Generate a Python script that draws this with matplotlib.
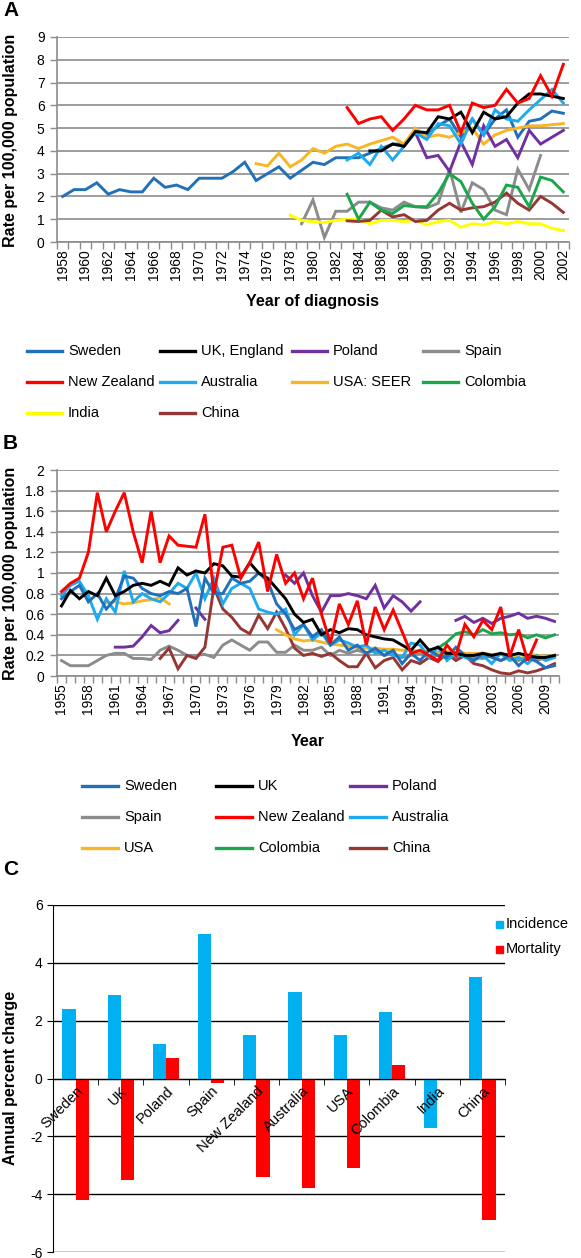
import matplotlib
matplotlib.use("Agg")
import matplotlib.pyplot as plt
from matplotlib.lines import Line2D
from matplotlib.patches import Rectangle
from matplotlib.ticker import FixedLocator, NullFormatter
import numpy as np

plt.rcParams['font.family'] = ['Liberation Sans', 'DejaVu Sans']

W, H = 581, 1258

# ---------------- panel A : incidence, 1958-2002 (start year, values)
sweden_a = (1958, [2.0, 2.3, 2.3, 2.6, 2.1, 2.3, 2.2, 2.2, 2.8, 2.4, 2.5, 2.3, 2.8, 2.8, 2.8,
                   3.1, 3.5, 2.7, 3.0, 3.3, 2.8, 3.15, 3.5, 3.4, 3.7, 3.7, 3.7, 3.9, 4.1, 4.3,
                   4.3, 4.8, 4.7, 5.1, 5.4, 4.6, 5.4, 4.7, 5.4, 5.8, 4.6, 5.3, 5.4, 5.75, 5.65])
uk_a = (1985, [4.0, 4.0, 4.3, 4.2, 4.85, 4.8, 5.5, 5.4, 5.7, 4.8, 5.7, 5.4, 5.5, 6.1, 6.5,
               6.5, 6.4, 6.3])
poland_a = (1989, [4.8, 3.7, 3.8, 3.1, 4.4, 3.4, 5.1, 4.2, 4.5, 3.7, 4.9, 4.3, 4.6, 4.9])
spain_a = (1979, [0.8, 1.85, 0.2, 1.35, 1.35, 1.75, 1.75, 1.5, 1.4, 1.75, 1.55, 1.5, 1.7,
                  3.2, 1.3, 2.6, 2.3, 1.4, 1.2, 3.2, 2.3, 3.8])
nz_a = (1983, [5.9, 5.2, 5.4, 5.5, 4.9, 5.4, 6.0, 5.8, 5.8, 6.0, 4.8, 6.1, 5.9, 6.0, 6.7,
               6.1, 6.3, 7.3, 6.4, 7.8])
australia_a = (1983, [3.6, 3.9, 3.4, 4.2, 3.6, 4.2, 4.8, 4.5, 5.2, 5.1, 4.3, 5.4, 4.7, 5.8,
                      5.4, 5.3, 5.8, 6.25, 6.7, 6.1])
usa_a = (1975, [3.44, 3.34, 3.9, 3.3, 3.6, 4.1, 3.9, 4.2, 4.3, 4.1, 4.3, 4.45, 4.6, 4.3, 5.0,
                4.6, 4.7, 4.6, 4.8, 5.0, 4.3, 4.7, 4.9, 5.0, 5.1, 5.1, 5.15, 5.2])
colombia_a = (1983, [2.1, 1.0, 1.75, 1.4, 1.25, 1.6, 1.55, 1.55, 2.15, 3.0, 2.65, 1.7, 1.0,
                     1.55, 2.5, 2.4, 1.55, 2.85, 2.7, 2.2])
india_a = (1978, [1.18, 0.95, 0.9, 0.85, 0.95, 1.0, 1.0, 0.8, 0.95, 0.95, 0.9, 0.95, 0.75,
                  0.9, 0.95, 0.65, 0.8, 0.75, 0.9, 0.8, 0.9, 0.8, 0.8, 0.6, 0.5])
china_a = (1983, [0.93, 0.9, 0.95, 1.4, 1.1, 1.2, 0.9, 0.95, 1.4, 1.7, 1.4, 1.5, 1.55, 1.75,
                  2.15, 1.7, 1.4, 2.0, 1.7, 1.3])

# ---------------- panel B : mortality, 1955-2010
nan = np.nan
sweden_b = (1955, [0.75, 0.82, 0.88, 0.72, 0.80, 0.65, 0.75, 0.97, 0.95, 0.85, 0.80, 0.78,
                   0.82, 0.80, 0.85, 0.48, 0.95, 0.80, 0.80, 0.95, 0.90, 0.92, 1.00, 0.92,
                   0.70, 0.60, 0.45, 0.50, 0.38, 0.45, 0.30, 0.38, 0.25, 0.30, 0.22, 0.27,
                   0.20, 0.25, 0.12, 0.22, 0.15, 0.25, 0.20, 0.18, 0.28, 0.20, 0.15, 0.22,
                   0.18, 0.15, 0.20, 0.10, 0.18, 0.14, 0.08, 0.10])
uk_b = (1955, [0.68, 0.83, 0.75, 0.82, 0.78, 0.95, 0.78, 0.82, 0.88, 0.90, 0.88, 0.92, 0.88,
               1.05, 0.98, 1.02, 1.00, 1.09, 1.07, 0.97, 0.96, 1.10, 1.00, 0.95, 0.85, 0.75,
               0.60, 0.52, 0.55, 0.40, 0.45, 0.42, 0.46, 0.45, 0.40, 0.38, 0.36, 0.35, 0.30,
               0.25, 0.35, 0.25, 0.28, 0.22, 0.22, 0.20, 0.20, 0.22, 0.20, 0.22, 0.20, 0.22,
               0.20, 0.18, 0.18, 0.20])
poland_b = (1961, [0.28, 0.28, 0.29, 0.38, 0.49, 0.42, 0.44, 0.54, nan, 0.66, 0.55,
                   nan, nan, nan, nan, nan, nan, nan, nan,
                   0.98, 0.90, 1.00, 0.78, 0.62, 0.78, 0.78, 0.80, 0.78, 0.75, 0.88, 0.66,
                   0.78, 0.72, 0.63, 0.72, nan, nan, nan,
                   0.54, 0.58, 0.52, 0.56, 0.51, 0.56, 0.58, 0.61, 0.56, 0.58, 0.56, 0.53])
spain_b = (1955, [0.15, 0.10, 0.10, 0.10, 0.15, 0.20, 0.22, 0.22, 0.17, 0.17, 0.16, 0.25,
                  0.29, 0.25, 0.20, 0.20, 0.21, 0.18, 0.30, 0.35, 0.30, 0.25, 0.33, 0.33,
                  0.23, 0.23, 0.30, 0.25, 0.25, 0.28, 0.20, 0.25, 0.22, 0.25, 0.22, 0.25,
                  0.20, 0.22, 0.18, 0.20, 0.22, 0.18, 0.20, 0.22, 0.18, 0.20, 0.18, 0.17,
                  0.20, 0.15, 0.18, 0.15, 0.20, 0.15, 0.18, 0.20])
nz_b = (1955, [0.82, 0.90, 0.95, 1.20, 1.78, 1.40, 1.60, 1.78, 1.40, 1.10, 1.60, 1.10, 1.36,
               1.27, 1.26, 1.25, 1.57, 0.80, 1.25, 1.27, 0.95, 1.10, 1.30, 0.82, 1.18, 0.90,
               1.00, 0.75, 0.95, 0.60, 0.32, 0.70, 0.50, 0.73, 0.30, 0.67, 0.45, 0.64, 0.43,
               0.22, 0.25, 0.20, 0.15, 0.30, 0.20, 0.50, 0.38, 0.54, 0.45, 0.67, 0.19, 0.45,
               0.15, 0.35])
australia_b = (1955, [0.78, 0.88, 0.92, 0.78, 0.55, 0.75, 0.62, 1.02, 0.72, 0.80, 0.75, 0.72,
                      0.80, 0.90, 0.85, 1.00, 0.75, 0.95, 0.70, 0.85, 0.90, 0.85, 0.65, 0.62,
                      0.60, 0.65, 0.40, 0.50, 0.35, 0.42, 0.30, 0.35, 0.32, 0.28, 0.30, 0.22,
                      0.25, 0.20, 0.18, 0.32, 0.30, 0.18, 0.28, 0.15, 0.22, 0.18, 0.15, 0.20,
                      0.12, 0.22, 0.15, 0.18, 0.12, 0.20, 0.15, 0.18])
usa_b = (1960, [0.71, 0.72, 0.70, 0.71, 0.73, 0.74, 0.76, 0.70,
                nan, nan, nan, nan, nan, nan, nan, nan, nan, nan, nan,
                0.45, 0.40, 0.36, 0.34, 0.35, 0.33, 0.31, 0.30, 0.29, 0.28, 0.27, 0.27,
                0.26, 0.26, 0.25, 0.25, 0.24, 0.24, 0.23, 0.24, 0.23, 0.22, 0.22, 0.22,
                0.21, 0.21, 0.20, 0.20, 0.21, 0.20, 0.19, 0.20])
colombia_b = (1997, [0.27, 0.33, 0.41, 0.43, 0.40, 0.45, 0.41, 0.42, 0.40, 0.41, 0.37, 0.40,
                     0.37, 0.40])
china_b = (1966, [0.17, 0.27, 0.07, 0.20, 0.17, 0.28, 0.86, 0.65, 0.57, 0.46, 0.41, 0.59,
                  0.46, 0.62, 0.46, 0.27, 0.20, 0.22, 0.19, 0.22, 0.15, 0.09, 0.09, 0.22,
                  0.08, 0.15, 0.18, 0.06, 0.15, 0.12, 0.18, 0.14, 0.22, 0.15, 0.20, 0.12,
                  0.10, 0.06, 0.03, 0.02, 0.05, 0.03, 0.05, 0.08, 0.12])

# ---------------- panel C : annual percent change
countries_c = ["Sweden", "UK", "Poland", "Spain", "New Zealand", "Australia", "USA",
               "Colombia", "India", "China"]
incidence_c = [2.4, 2.9, 1.2, 5.0, 1.5, 3.0, 1.5, 2.3, -1.7, 3.5]
mortality_c = [-4.2, -3.5, 0.7, -0.15, -3.4, -3.8, -3.1, 0.45, nan, -4.9]

colors = {"Sweden": "#2270b8", "UK": "#000000", "Poland": "#7030a0", "Spain": "#8c8c8c",
          "New Zealand": "#ff0000", "Australia": "#1eaaee", "USA": "#f8b526",
          "Colombia": "#1aa64a", "India": "#ffff00", "China": "#953735"}

fig = plt.figure(figsize=(W / 100, H / 100), dpi=100)


def px_axes(l, t, r, b):
    return fig.add_axes([l / W, 1 - b / H, (r - l) / W, (b - t) / H])


def fx(x):
    return x / W


def fy(y):
    return 1 - y / H


def style_line_axes(ax, first, last, step, ymax, ystep, fmt):
    grey = "#8c8c8c"
    ax.set_xlim(first - 0.5, last + 0.5)
    ax.set_ylim(0, ymax)
    yt = np.arange(0, ymax + ystep / 2, ystep)
    ax.set_yticks(yt)
    ax.set_yticklabels([fmt(v) for v in yt], fontsize=10)
    ax.xaxis.set_major_locator(FixedLocator(np.arange(first, last + 1, step)))
    ax.set_xticklabels([str(y) for y in range(first, last + 1, step)], rotation=90, fontsize=10)
    ax.xaxis.set_minor_locator(FixedLocator(np.arange(first - 0.5, last + 1, 1)))
    ax.xaxis.set_minor_formatter(NullFormatter())
    ax.tick_params(axis="x", which="major", length=0, pad=5)
    ax.tick_params(axis="x", which="minor", length=5, width=1, color=grey, direction="out")
    ax.tick_params(axis="y", length=5, width=1, color=grey, pad=4)
    ax.grid(axis="y", color=grey, lw=1.2)
    ax.set_axisbelow(True)
    for s in ["top", "right"]:
        ax.spines[s].set_visible(False)
    for s in ["left", "bottom"]:
        ax.spines[s].set_color(grey)
        ax.spines[s].set_linewidth(1.2)


def draw(ax, series, name):
    start, vals = series
    x = np.arange(start, start + len(vals))
    ax.plot(x, vals, color=colors[name], lw=2.1, solid_joinstyle="miter")


def manual_legend(entries, xs, ys, ncol, length):
    for i, (name, label) in enumerate(entries):
        x0 = xs[i % ncol]
        y0 = ys[i // ncol]
        fig.add_artist(Line2D([fx(x0), fx(x0 + length)], [fy(y0), fy(y0)],
                              color=colors[name], lw=2.4))
        fig.text(fx(x0 + length + 6), fy(y0), label, fontsize=10.5, va="center", ha="left")


# ---------- A
axA = px_axes(57, 37, 569, 242)
style_line_axes(axA, 1958, 2002, 2, 9, 1, lambda v: f"{v:g}")
for name, s in [("Sweden", sweden_a), ("Spain", spain_a), ("India", india_a),
                ("China", china_a), ("Colombia", colombia_a), ("USA", usa_a),
                ("Poland", poland_a), ("Australia", australia_a), ("UK", uk_a),
                ("New Zealand", nz_a)]:
    draw(axA, s, name)
fig.text(fx(313), fy(302), "Year of diagnosis", fontsize=11.5, fontweight="bold",
         ha="center", va="center")
fig.text(fx(11), fy(140), "Rate per 100,000 population", fontsize=11.5, fontweight="bold",
         ha="center", va="center", rotation=90)
fig.text(fx(3), fy(1), "A", fontsize=15, fontweight="bold", ha="left", va="top")
manual_legend([("Sweden", "Sweden"), ("UK", "UK, England"), ("Poland", "Poland"),
               ("Spain", "Spain"), ("New Zealand", "New Zealand"), ("Australia", "Australia"),
               ("USA", "USA: SEER"), ("Colombia", "Colombia"), ("India", "India"),
               ("China", "China")],
              [27, 160, 292, 423], [351, 382, 413], 4, 35)

# ---------- B
axB = px_axes(57, 470, 559, 676)
style_line_axes(axB, 1955, 2010, 3, 2, 0.2, lambda v: f"{round(v, 1):g}")
axB.set_xticks(np.arange(1955, 2010, 3))
axB.set_xticklabels([str(y) for y in range(1955, 2010, 3)], rotation=90, fontsize=10)
for name, s in [("Spain", spain_b), ("China", china_b), ("Poland", poland_b),
                ("USA", usa_b), ("Colombia", colombia_b), ("Australia", australia_b),
                ("Sweden", sweden_b), ("UK", uk_b), ("New Zealand", nz_b)]:
    draw(axB, s, name)
fig.text(fx(308), fy(742), "Year", fontsize=11.5, fontweight="bold", ha="center", va="center")
fig.text(fx(11), fy(573), "Rate per 100,000 population", fontsize=11.5, fontweight="bold",
         ha="center", va="center", rotation=90)
fig.text(fx(3), fy(434), "B", fontsize=15, fontweight="bold", ha="left", va="top")
manual_legend([("Sweden", "Sweden"), ("UK", "UK"), ("Poland", "Poland"),
               ("Spain", "Spain"), ("New Zealand", "New Zealand"), ("Australia", "Australia"),
               ("USA", "USA"), ("Colombia", "Colombia"), ("China", "China")],
              [82, 216, 350], [786, 817, 848], 3, 36)

# ---------- C
axC = px_axes(53, 905, 505, 1252)
xc = np.arange(len(countries_c))
bw = 0.29
axC.bar(xc - bw / 2, incidence_c, bw, color="#00b0f0", zorder=3)
axC.bar(xc + bw / 2, mortality_c, bw, color="#ff0000", zorder=3)
axC.set_xlim(-0.5, len(countries_c) - 0.5)
axC.set_ylim(-6, 6)
yt = np.arange(-6, 7, 2)
axC.set_yticks(yt)
axC.set_yticklabels([f"{v:d}" for v in yt], fontsize=10)
axC.grid(axis="y", color="black", lw=1.0, zorder=0)
axC.set_axisbelow(True)
axC.spines["bottom"].set_position(("data", 0))
axC.spines["bottom"].set_color("black")
axC.spines["bottom"].set_zorder(4)
axC.spines["left"].set_color("black")
for s in ["top", "right"]:
    axC.spines[s].set_visible(False)
axC.set_xticks(xc)
axC.set_xticklabels(countries_c, rotation=45, ha="right", va="top",
                    rotation_mode="anchor", fontsize=10.5)
axC.xaxis.set_minor_locator(FixedLocator(np.arange(0.5, len(countries_c), 1)))
axC.xaxis.set_minor_formatter(NullFormatter())
axC.tick_params(axis="x", which="major", length=0, pad=4)
axC.tick_params(axis="x", which="minor", length=4, color="black", direction="out")
axC.tick_params(axis="y", length=4, color="black")
axC.xaxis.set_zorder(5)  # category names sit on top of the bars
fig.text(fx(11), fy(1078), "Annual percent charge", fontsize=11.5, fontweight="bold",
         ha="center", va="center", rotation=90)
fig.text(fx(3), fy(860), "C", fontsize=15, fontweight="bold", ha="left", va="top")
for i, (lab, col) in enumerate([("Incidence", "#00b0f0"), ("Mortality", "#ff0000")]):
    yc = 924 + i * 25
    fig.add_artist(Rectangle((fx(496), fy(yc + 3.5)), 7 / W, 7 / H, color=col,
                             transform=fig.transFigure))
    fig.text(fx(506), fy(yc), lab, fontsize=10.5, va="center", ha="left")

fig.savefig("out.png", dpi=100)
